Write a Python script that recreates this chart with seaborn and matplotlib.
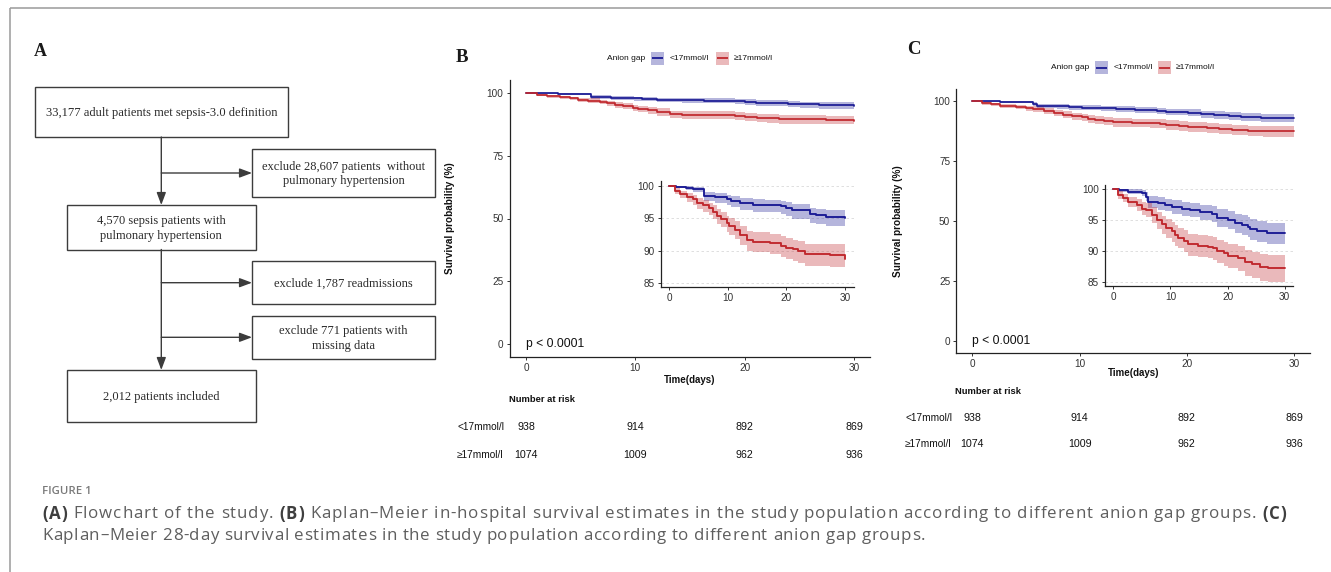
import matplotlib
matplotlib.use("Agg")
import numpy as np
import pandas as pd
import matplotlib.pyplot as plt
import seaborn as sns
from matplotlib.patches import Rectangle
from matplotlib import font_manager
from matplotlib.font_manager import FontProperties
from matplotlib.transforms import blended_transform_factory

# ------------------------------------------------------------------ data
groups = ["<17mmol/l", "\u226517mmol/l"]
legend_title = "Anion gap"

# Panel B : in-hospital survival (%), Kaplan-Meier steps
b_low_time = [0, 1.1, 2.9, 4.1, 5.9, 7.8, 9.9, 10.6, 12.0, 14.3, 16.3, 19.1, 20.0, 21.0, 24.0, 25.1, 26.8, 30.0]
b_low_surv = [100, 99.85, 99.7, 99.5, 98.45, 98.2, 97.9, 97.7, 97.3, 97.1, 97.0, 96.85, 96.6, 96.2, 95.6, 95.45, 95.2, 95.0]
b_low_lo = [100, 99.6, 99.35, 99.05, 97.65, 97.34, 96.97, 96.73, 96.25, 96.01, 95.89, 95.71, 95.41, 94.94, 94.24, 94.07, 93.78, 93.55]
b_low_hi = [100, 100, 99.96, 99.84, 99.05, 98.85, 98.6, 98.43, 98.09, 97.92, 97.83, 97.71, 97.49, 97.15, 96.62, 96.49, 96.27, 96.09]

b_high_time = [0, 1.0, 1.9, 3.1, 4.0, 4.8, 5.7, 6.8, 7.4, 8.1, 8.9, 9.8, 10.2, 11.2, 12.0, 13.2, 14.3, 17.2, 19.1, 20.0, 21.1, 22.0, 23.1, 27.4, 30.0]
b_high_surv = [100, 99.2, 98.7, 98.3, 97.9, 97.4, 97.0, 96.5, 96.0, 95.4, 94.95, 94.2, 93.8, 93.25, 92.5, 91.6, 91.4, 91.2, 90.8, 90.5, 90.2, 89.9, 89.5, 89.4, 88.8]
b_high_lo = [100, 98.7, 98.06, 97.57, 97.08, 96.49, 96.01, 95.45, 94.87, 94.19, 93.69, 92.84, 92.39, 91.78, 90.95, 89.96, 89.74, 89.52, 89.08, 88.75, 88.42, 88.08, 87.65, 87.55, 86.89]
b_high_hi = [100, 99.63, 99.25, 98.93, 98.6, 98.18, 97.85, 97.4, 96.97, 96.44, 96.03, 95.37, 95.01, 94.51, 93.83, 93.0, 92.82, 92.64, 92.28, 92.0, 91.73, 91.46, 91.08, 90.98, 90.44]

# Panel C : 28-day survival (%)
c_low_time = [0, 1.05, 2.6, 5.0, 5.7, 6.0, 7.9, 9.0, 10.2, 12.0, 13.4, 15.2, 17.2, 18.1, 20.1, 21.3, 22.5, 23.6, 23.9, 25.1, 26.9, 30.0]
c_low_surv = [100, 99.85, 99.6, 99.45, 98.8, 98.0, 97.75, 97.5, 97.2, 96.9, 96.7, 96.3, 96.0, 95.4, 95.05, 94.5, 94.25, 93.98, 93.6, 93.3, 92.9, 92.9]
c_low_lo = [100, 99.59, 99.18, 98.96, 98.07, 97.06, 96.74, 96.44, 96.08, 95.72, 95.48, 95.01, 94.66, 93.96, 93.56, 92.93, 92.63, 92.33, 91.9, 91.56, 91.1, 91.1]
c_low_hi = [100, 100, 100, 99.92, 99.5, 98.9, 98.71, 98.51, 98.27, 98.02, 97.86, 97.53, 97.28, 96.77, 96.47, 96.0, 95.79, 95.55, 95.22, 94.96, 94.61, 94.61]

c_high_time = [0, 0.9, 1.75, 2.6, 4.1, 5.0, 5.7, 6.7, 7.6, 8.5, 9.3, 10.2, 10.8, 11.4, 12.3, 13.1, 14.9, 16.6, 17.5, 18.1, 19.3, 20.1, 21.9, 23.0, 24.2, 25.7, 27.1, 30.0]
c_high_surv = [100, 99.1, 98.65, 98.0, 97.5, 96.9, 96.7, 95.9, 95.05, 94.35, 93.7, 93.2, 92.6, 92.2, 91.7, 91.1, 90.9, 90.75, 90.5, 90.05, 89.7, 89.3, 88.9, 88.2, 87.9, 87.5, 87.35, 87.35]
c_high_lo = [100, 98.5, 97.93, 97.12, 96.51, 95.8, 95.57, 94.63, 93.65, 92.86, 92.13, 91.57, 90.9, 90.46, 89.89, 89.23, 89.01, 88.84, 88.56, 88.07, 87.68, 87.24, 86.8, 86.04, 85.72, 85.27, 85.11, 85.11]
c_high_hi = [100, 99.65, 99.32, 98.81, 98.41, 97.92, 97.75, 97.07, 96.34, 95.73, 95.16, 94.7, 94.17, 93.81, 93.37, 92.83, 92.65, 92.52, 92.29, 91.88, 91.56, 91.2, 90.84, 90.2, 89.92, 89.56, 89.42, 89.42]

# number at risk
risk_times = [0, 10, 20, 30]
risk_low = [938, 914, 892, 869]
risk_high = [1074, 1009, 962, 936]

main_yticks = [0, 25, 50, 75, 100]
inset_yticks = [85, 90, 95, 100]
p_text = "p < 0.0001"

flow_texts = [
    "33,177 adult patients met sepsis-3.0 definition",
    "exclude 28,607 patients  without\npulmonary hypertension",
    "4,570 sepsis patients with\npulmonary hypertension",
    "exclude 1,787 readmissions",
    "exclude 771 patients with\nmissing data",
    "2,012 patients included",
]
caption_title = "FIGURE 1"
caption_line1 = [("(A)", True), (" Flowchart of the study. ", False), ("(B)", True),
                 (" Kaplan\u2013Meier in-hospital survival estimates in the study population according to different anion gap groups. ", False),
                 ("(C)", True)]
caption_line2 = [("Kaplan\u2013Meier 28-day survival estimates in the study population according to different anion gap groups.", False)]

# ------------------------------------------------------------------ setup
sns.set_theme(style="white")
plt.rcParams["font.family"] = ["Liberation Sans", "DejaVu Sans"]

W, H, DPI = 1331, 572, 100
fig = plt.figure(figsize=(W / DPI, H / DPI), dpi=DPI, facecolor="white")
bg = fig.add_axes([0, 0, 1, 1], zorder=0)
bg.set_xlim(0, W)
bg.set_ylim(H, 0)
bg.axis("off")
renderer = fig.canvas.get_renderer()

avail = {f.name for f in font_manager.fontManager.ttflist}
if "Liberation Sans Narrow" in avail:
    NARROW = ["Liberation Sans Narrow", "DejaVu Sans"]
    nscale = 1.0
else:
    NARROW = ["Liberation Sans", "DejaVu Sans"]
    nscale = 0.82
SANS = ["Liberation Sans", "DejaVu Sans"]
SERIF = ["Liberation Serif", "DejaVu Serif"]
CAPF = ["Open Sans", "Lato", "DejaVu Sans"]

BLUE = "#1A1A94"
RED = "#C0272D"
PAL = [BLUE, RED]
ALPHA = 0.32
TICK = "#333333"
EDGE = "#3c3c3c"

# ------------------------------------------------------------------ frame
bg.plot([10, W], [8, 8], color="#9a9a9a", lw=1.1, solid_capstyle="butt")
bg.plot([10, 10], [8, H], color="#9a9a9a", lw=1.1, solid_capstyle="butt")

# ------------------------------------------------------------------ panel A flowchart
box_geom = [(35, 87, 288, 137), (252, 149, 435, 197), (67, 205, 255.5, 249.5),
            (252, 261, 435, 304), (252, 316, 435, 358.5), (67, 370, 255.5, 421.5)]
for (x0, y0, x1, y1), txt in zip(box_geom, flow_texts):
    bg.add_patch(Rectangle((x0, y0), x1 - x0, y1 - y0, fill=False, ec=EDGE, lw=1.0))
    bg.text((x0 + x1) / 2, (y0 + y1) / 2 + 1, txt, ha="center", va="center",
            fontsize=9, family=SERIF, color="#2a2a2a", linespacing=1.28)

def arrow(x0, y0, x1, y1):
    bg.annotate("", xy=(x1, y1), xytext=(x0, y0),
                arrowprops=dict(arrowstyle="-|>,head_length=0.75,head_width=0.28",
                                color=EDGE, lw=1.0, shrinkA=0, shrinkB=0, mutation_scale=10))

XC = 161.3
arrow(XC, 137, XC, 205)
arrow(XC, 249.5, XC, 370)
arrow(XC, 173, 252, 173)
arrow(XC, 282.7, 252, 282.7)
arrow(XC, 337.3, 252, 337.3)

bg.text(40, 51, "A", fontsize=13, fontweight="bold", family=SERIF, ha="center", va="center", color="#1a1a1a")
bg.text(462, 57, "B", fontsize=13.5, fontweight="bold", family=SERIF, ha="center", va="center", color="#1a1a1a")
bg.text(914, 50, "C", fontsize=13.5, fontweight="bold", family=SERIF, ha="center", va="center", color="#1a1a1a")

# ------------------------------------------------------------------ helpers
def place_axes(xp, yp, xlim, ylim, z):
    (dx0, px0), (dx1, px1) = xp
    (dy0, py0), (dy1, py1) = yp
    sx = (px1 - px0) / (dx1 - dx0)
    sy = (py1 - py0) / (dy1 - dy0)
    left = px0 + (xlim[0] - dx0) * sx
    right = px0 + (xlim[1] - dx0) * sx
    bottom = py0 + (ylim[0] - dy0) * sy
    top = py0 + (ylim[1] - dy0) * sy
    ax = fig.add_axes([left / W, 1 - bottom / H, (right - left) / W, (bottom - top) / H], zorder=z)
    return ax, (left, top, right, bottom)


def draw_curves(ax, curves, lw):
    frames = []
    for (name, t, s, lo, hi), col in zip(curves, PAL):
        ax.fill_between(t, lo, hi, step="post", color=col, alpha=ALPHA, lw=0, zorder=1)
        frames.append(pd.DataFrame({"time": t, "surv": s, "group": name}))
    df = pd.concat(frames, ignore_index=True)
    sns.lineplot(data=df, x="time", y="surv", hue="group", hue_order=groups, palette=PAL,
                 estimator=None, sort=False, drawstyle="steps-post", legend=False,
                 ax=ax, linewidth=lw, zorder=3)


def style_axes(ax, xlim, ylim, yticks, lsize):
    ax.set_xlim(*xlim)
    ax.set_ylim(*ylim)
    ax.set_facecolor("none")
    sns.despine(ax=ax)
    for sp in ("left", "bottom"):
        ax.spines[sp].set_color("#222222")
        ax.spines[sp].set_linewidth(0.9)
    ax.set_xticks(risk_times)
    ax.set_yticks(yticks)
    ax.tick_params(axis="both", which="major", length=2.5, width=0.7, color=TICK,
                   labelsize=lsize, labelcolor=TICK, pad=1.8, bottom=True, left=True)
    for lab in ax.get_xticklabels() + ax.get_yticklabels():
        lab.set_family(SANS)
    ax.set_xlabel("")
    ax.set_ylabel("")


def km_panel(curves, main_x, main_y, ins_x, ins_y, ylab_x, xlab_y):
    ax, (l, t, r, b) = place_axes(main_x, main_y, (-1.5, 31.5), (-5, 105), 2)
    draw_curves(ax, curves, 1.25)
    style_axes(ax, (-1.5, 31.5), (-5, 105), main_yticks, 7.2)
    ax.text(0, 0, p_text, fontsize=8.7, ha="left", va="center", color="#111111", family=SANS)
    bg.text(ylab_x, (t + b) / 2, "Survival probability (%)", rotation=90, ha="center", va="center",
            fontsize=7.2, fontweight="bold", family=SANS, color="#111111")
    bg.text((l + r) / 2, xlab_y, "Time(days)", ha="center", va="center",
            fontsize=8.6 * nscale, fontweight="bold", family=NARROW, color="#111111")

    ins, _ = place_axes(ins_x, ins_y, (-1.5, 31.5), (84.4, 100.75), 3)
    for yv in inset_yticks:
        ins.axhline(yv, color="#d9d9d9", lw=0.6, ls=(0, (3, 3)), zorder=0)
    draw_curves(ins, curves, 1.35)
    style_axes(ins, (-1.5, 31.5), (84.4, 100.75), inset_yticks, 7.2)
    ins.set_facecolor("white")
    return ax


def legend(yc, title_x, patch_x, label_x):
    bg.text(title_x, yc, legend_title, ha="left", va="center", fontsize=6, family=SANS, color="#111111")
    for px, lx, col, name in zip(patch_x, label_x, PAL, groups):
        bg.add_patch(Rectangle((px, yc - 6.5), 13, 13, fc=col, alpha=ALPHA, lw=0))
        bg.plot([px + 1, px + 12], [yc, yc], color=col, lw=1.3, solid_capstyle="butt")
        bg.text(lx, yc, name, ha="left", va="center", fontsize=6, family=SANS, color="#111111")


def risk_table(ax, head_x, head_y, label_x, rows_y):
    trans = blended_transform_factory(ax.transData, bg.transData)
    bg.text(head_x, head_y, "Number at risk", ha="left", va="center", fontsize=8.2 * nscale,
            fontweight="bold", family=NARROW, color="#111111")
    for name, counts, y in zip(groups, [risk_low, risk_high], rows_y):
        bg.text(label_x, y, name, ha="left", va="center", fontsize=8.9 * nscale, family=NARROW, color="#111111")
        for tt, n in zip(risk_times, counts):
            bg.text(tt, y, str(n), transform=trans, ha="center", va="center",
                    fontsize=9.3 * nscale, family=NARROW, color="#111111")


# ------------------------------------------------------------------ panel B
curves_b = [(groups[0], b_low_time, b_low_surv, b_low_lo, b_low_hi),
            (groups[1], b_high_time, b_high_surv, b_high_lo, b_high_hi)]
axB = km_panel(curves_b, ((0, 526), (30, 854)), ((0, 344), (100, 93)),
               ((0, 669.3), (30, 845)), ((85, 283.3), (100, 185.7)), 450, 380)
legend(58, 607, (651, 715.5), (670, 734))
risk_table(axB, 509, 400, 457, (426.5, 454.5))

# ------------------------------------------------------------------ panel C
curves_c = [(groups[0], c_low_time, c_low_surv, c_low_lo, c_low_hi),
            (groups[1], c_high_time, c_high_surv, c_high_lo, c_high_hi)]
axC = km_panel(curves_c, ((0, 972.3), (30, 1294)), ((0, 340.7), (100, 101)),
               ((0, 1113.3), (30, 1284.7)), ((85, 282.3), (100, 189.3)), 898, 373)
legend(67.5, 1051, (1095, 1158), (1114, 1176))
risk_table(axC, 955, 392, 905, (418, 444))

# ------------------------------------------------------------------ caption (glyphs placed with light tracking to match reference widths)
def seg_width(s, prop):
    w1, _, _ = renderer.get_text_width_height_descent(s + "|", prop, ismath=False)
    w2, _, _ = renderer.get_text_width_height_descent("|", prop, ismath=False)
    return w1 - w2


def props(size, bold):
    return FontProperties(family=CAPF, size=size, weight="bold" if bold else "normal")


cap_size = 12.2


def rich_line(x, y, segs, target):
    chars = [(ch, b) for s, b in segs for ch in s]
    nat = sum(seg_width(ch, props(cap_size, b)) for ch, b in chars)
    track = max(0.0, (target - nat) / max(len(chars) - 1, 1))
    for ch, b in chars:
        pr = props(cap_size, b)
        if ch != " ":
            bg.text(x, y, ch, fontproperties=pr, ha="left", va="center",
                    color="#3f3f3f" if b else "#5e5e5e")
        x += seg_width(ch, pr) + track


bg.text(42, 491, caption_title, ha="left", va="center", fontsize=8.2, fontweight="semibold",
        family=CAPF, color="#7a7a7a")
rich_line(42, 514, caption_line1, 1244)
rich_line(42, 536, caption_line2, 883)

fig.savefig("out.png", dpi=DPI, facecolor="white")
